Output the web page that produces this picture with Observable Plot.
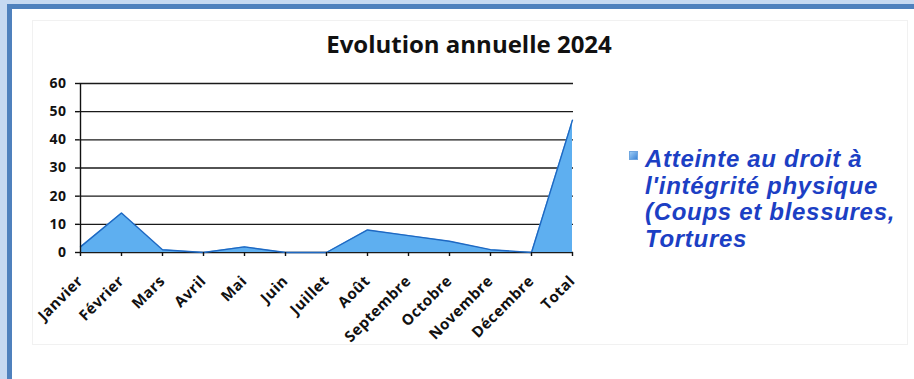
<!DOCTYPE html>
<html>
<head>
<meta charset="utf-8">
<script src="https://cdn.jsdelivr.net/npm/d3@7"></script>
<script src="https://cdn.jsdelivr.net/npm/@observablehq/plot@0.6"></script>
<style>
  html, body { margin: 0; padding: 0; background: #fff; }
  #page { position: relative; width: 914px; height: 379px; overflow: hidden; background: #fff; }
  .band { position: absolute; background: #c6d9f1; }
  .frame { position: absolute; background: #4f81bd; }
  #panel { position: absolute; left: 32px; top: 20px; width: 876px; height: 325px; border: 1px solid #f1f1f1; box-sizing: border-box; }
  #title { position: absolute; left: 269px; top: 32px; width: 400px; text-align: center; line-height: 24px;
           font-family: "Open Sans", sans-serif; font-weight: 700; font-size: 24px; color: #111; }
  #chart { position: absolute; left: 0; top: 0; }
  #legend { position: absolute; left: 626px; top: 146px;
            font-family: "Liberation Sans", Arial, sans-serif; font-weight: 700; font-style: italic;
            font-size: 24px; line-height: 26.7px; letter-spacing: 0.7px; color: #1c3fc4; }
  #legend .swatch { position: absolute; left: 3px; top: 5px; width: 7px; height: 7px;
                    background: linear-gradient(135deg, #9ccbf5, #3f86d6); border: 1px solid #6fa6e0; }
  #legend .lines { margin-left: 19px; white-space: nowrap; }
  #chart svg text { letter-spacing: 0.5px; }
</style>
</head>
<body>
<div id="page">
  <div class="band" style="left:0;top:0;width:914px;height:4px;"></div>
  <div class="band" style="left:0;top:0;width:7px;height:379px;"></div>
  <div class="frame" style="left:7px;top:4px;width:907px;height:5px;"></div>
  <div class="frame" style="left:7px;top:4px;width:5px;height:375px;"></div>
  <div id="panel"></div>
  <div id="title"></div>
  <div id="chart"></div>
  <div id="legend"><div class="swatch"></div><div class="lines"></div></div>
</div>
<script>
// Monthly counts for 2024, plus the yearly total in the last slot
const mois = ["Janvier", "Février", "Mars", "Avril", "Mai", "Juin", "Juillet",
              "Août", "Septembre", "Octobre", "Novembre", "Décembre", "Total"];
const valeurs = [2, 14, 1, 0, 2, 0, 0, 8, 6, 4, 1, 0, 47];
const graduations = [0, 10, 20, 30, 40, 50, 60];
const titre = "Evolution annuelle 2024";
const legende = ["Atteinte au droit à", "l'intégrité physique", "(Coups et blessures,", "Tortures"];

const table = mois.map((m, i) => ({mois: m, valeur: valeurs[i]}));

document.getElementById("title").textContent = titre;
document.querySelector("#legend .lines").innerHTML = legende.map(l => `<div>${l}</div>`).join("");

const chart = Plot.plot({
  width: 600,
  height: 370,
  marginLeft: 79,
  marginRight: 27,
  marginTop: 83,
  marginBottom: 118,
  style: {background: "transparent", fontFamily: "'Open Sans', sans-serif", fontSize: "13px", fontWeight: 700, color: "#111"},
  x: {type: "point", domain: mois, padding: 0, label: null},
  y: {domain: [0, 60], label: null},
  marks: [
    Plot.gridY(graduations, {stroke: "#1a1a1a", strokeOpacity: 1, strokeWidth: 1.4}),
    Plot.areaY(table, {x: "mois", y: "valeur", fill: "#5eaff0", fillOpacity: 1}),
    Plot.lineY(table, {x: "mois", y: "valeur", stroke: "#1e68c2", strokeWidth: 1.4}),
    Plot.ruleX([mois[0]], {y1: 0, y2: 60, stroke: "#111", strokeWidth: 1.4}),
    Plot.axisY(graduations, {tickSize: 4, tickPadding: 9, fontSize: 14, stroke: "#111", strokeWidth: 1.4}),
    Plot.axisX({tickSize: 4, tickPadding: 22, tickRotate: -45, fontSize: 15, stroke: "#111", strokeWidth: 1.4})
  ]
});
document.getElementById("chart").append(chart);
</script>
</body>
</html>
